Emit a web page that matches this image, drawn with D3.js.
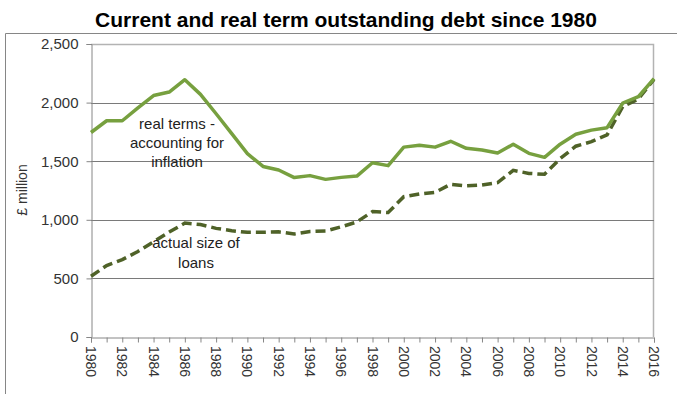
<!DOCTYPE html>
<html>
<head>
<meta charset="utf-8">
<script src="https://cdn.jsdelivr.net/npm/d3@7"></script>
<style>
  body { margin: 0; background: #fff; }
  text { font-family: "Liberation Sans", Arial, sans-serif; }
</style>
</head>
<body>
<svg id="chart" width="677" height="394"></svg>
<script>
// data, one value per year 1980..2016
var years = d3.range(1980, 2017);
var realTerms = [1745, 1845, 1845, 1955, 2060, 2090, 2195, 2070, 1905, 1735, 1565, 1455,
                 1425, 1360, 1377, 1345, 1362, 1373, 1487, 1462, 1620, 1636, 1620, 1670,
                 1610, 1595, 1570, 1645, 1567, 1533, 1645, 1730, 1765, 1786, 1995, 2050, 2205];
var actualSize = [518, 610, 660, 730, 812, 895, 972, 960, 927, 907, 893, 893,
                  897, 879, 900, 904, 940, 982, 1070, 1062, 1197, 1220, 1234, 1303,
                  1290, 1297, 1317, 1422, 1396, 1388, 1522, 1628, 1667, 1724, 1966, 2030, 2198];
var yTicks = [0, 500, 1000, 1500, 2000, 2500];
var xLabels = d3.range(1980, 2017, 2);

var svg = d3.select("#chart");
var x = d3.scaleLinear().domain([1980, 2016]).range([91, 654]);
var y = d3.scaleLinear().domain([0, 2500]).range([337, 44]);

// outer frame
svg.append("path")
    .attr("d", "M5.5,394 V33.5 H677")
    .attr("fill", "none")
    .attr("stroke", "#868686")
    .attr("stroke-width", 1);

svg.append("text")
    .attr("x", 346)
    .attr("y", 27)
    .attr("text-anchor", "middle")
    .style("font-size", "21px")
    .style("font-weight", "bold")
    .attr("fill", "#000")
    .text("Current and real term outstanding debt since 1980");

// plot border (top + right)
svg.append("path")
    .attr("d", "M" + x(1980) + "," + (y(2500) + 0.5) + " H" + (x(2016) - 0.5) + " V" + y(0))
    .attr("fill", "none")
    .attr("stroke", "#b3b3b3")
    .attr("stroke-width", 1.5);

// gridlines
svg.append("g").selectAll("line")
    .data(yTicks.filter(function(d) { return d > 0 && d < 2500; }))
  .enter().append("line")
    .attr("x1", x(1980)).attr("x2", x(2016))
    .attr("y1", function(d) { return Math.round(y(d)) + 0.5; })
    .attr("y2", function(d) { return Math.round(y(d)) + 0.5; })
    .attr("stroke", "#7a7a7a")
    .attr("stroke-width", 1);

// y axis
var yAxis = svg.append("g")
    .attr("transform", "translate(" + (x(1980) + 0.5) + ",0)")
    .call(d3.axisLeft(y).tickValues(yTicks).tickSize(5).tickPadding(8)
          .tickFormat(d3.format(",")));
yAxis.select(".domain").attr("stroke", "#868686");
yAxis.selectAll(".tick line").attr("stroke", "#868686");
yAxis.selectAll("text").style("font-size", "15px").attr("fill", "#333");

// x axis, a tick every year, a label every other year
var xAxis = svg.append("g")
    .attr("transform", "translate(0," + (y(0) + 0.5) + ")")
    .call(d3.axisBottom(x).tickValues(years).tickSize(5).tickFormat(""));
xAxis.select(".domain").attr("stroke", "#868686");
xAxis.selectAll(".tick line").attr("stroke", "#868686");

svg.append("g").selectAll("text")
    .data(xLabels)
  .enter().append("text")
    .attr("transform", function(d) { return "translate(" + x(d) + "," + (y(0) + 9) + ") rotate(90)"; })
    .attr("dy", "0.35em")
    .attr("text-anchor", "start")
    .style("font-size", "14px")
    .attr("fill", "#333")
    .text(function(d) { return d; });

svg.append("text")
    .attr("transform", "translate(27,190) rotate(-90)")
    .attr("text-anchor", "middle")
    .style("font-size", "14px")
    .attr("fill", "#333")
    .text("£ million");

var line = d3.line()
    .x(function(d, i) { return x(years[i]); })
    .y(function(d) { return y(d); });

svg.append("path")
    .datum(actualSize)
    .attr("d", line)
    .attr("fill", "none")
    .attr("stroke", "#4f6228")
    .attr("stroke-width", 3.5)
    .attr("stroke-dasharray", "10,5");

svg.append("path")
    .datum(realTerms)
    .attr("d", line)
    .attr("fill", "none")
    .attr("stroke", "#77a03f")
    .attr("stroke-width", 3.5)
    .attr("stroke-linejoin", "round");

// annotations
var notes = [
  {x: 177, y: 129, t: "real terms -"},
  {x: 177, y: 148, t: "accounting for"},
  {x: 177, y: 167, t: "inflation"},
  {x: 196, y: 248, t: "actual size of"},
  {x: 196, y: 268, t: "loans"}
];
svg.append("g").selectAll("text")
    .data(notes)
  .enter().append("text")
    .attr("x", function(d) { return d.x; })
    .attr("y", function(d) { return d.y; })
    .attr("text-anchor", "middle")
    .style("font-size", "15px")
    .attr("fill", "#222")
    .text(function(d) { return d.t; });
</script>
</body>
</html>
